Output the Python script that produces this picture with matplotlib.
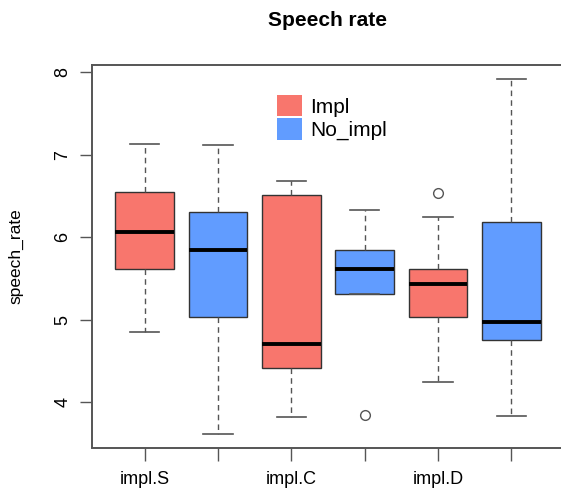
import matplotlib
matplotlib.use("Agg")
import matplotlib.pyplot as plt
from matplotlib.patches import Patch

plt.rcParams['font.family'] = ['Liberation Sans', 'DejaVu Sans']

# Five-number summaries per group (speech rate)
groups = ["impl.S", "impl.S", "impl.C", "impl.C", "impl.D", "impl.D"]
conditions = ["Impl", "No_impl", "Impl", "No_impl", "Impl", "No_impl"]
whisker_low = [4.85, 3.62, 3.83, 5.31, 4.25, 3.84]
q1 = [5.62, 5.04, 4.42, 5.31, 5.04, 4.76]
median = [6.06, 5.85, 4.71, 5.61, 5.44, 4.98]
q3 = [6.55, 6.30, 6.51, 5.84, 5.61, 6.19]
whisker_high = [7.13, 7.12, 6.68, 6.33, 6.24, 7.91]
outliers = [[], [], [], [3.85], [6.54], []]

tick_labels = ["impl.S", "", "impl.C", "", "impl.D", ""]
legend_labels = ["Impl", "No_impl"]
colors = {"Impl": "#F8766D", "No_impl": "#619CFF"}

stats = []
for i in range(len(median)):
    stats.append({
        "whislo": whisker_low[i], "q1": q1[i], "med": median[i],
        "q3": q3[i], "whishi": whisker_high[i], "fliers": outliers[i],
    })

fig = plt.figure(figsize=(5.61, 4.92), dpi=100)
ax = fig.add_axes([92 / 561, 1 - 447.5 / 492, (564 - 92) / 561, (447.5 - 65) / 492])

positions = list(range(1, len(stats) + 1))
edge = "#333333"
bp = ax.bxp(
    stats, positions=positions, widths=0.8, patch_artist=True,
    boxprops=dict(edgecolor=edge, linewidth=1.0),
    medianprops=dict(color="black", linewidth=2.8, solid_capstyle="butt"),
    whiskerprops=dict(color="#555555", linewidth=1.0, linestyle=(0, (4, 3))),
    capprops=dict(color="#555555", linewidth=1.2),
    flierprops=dict(marker="o", markersize=7, markerfacecolor="none",
                    markeredgecolor="#555555", markeredgewidth=1.0),
    capwidths=0.4,
)
for patch, cond in zip(bp["boxes"], conditions):
    patch.set_facecolor(colors[cond])

ax.set_xlim(0.28, 6.72)
ax.set_ylim(3.455, 8.085)
ax.set_xticks(positions)
ax.set_xticklabels(tick_labels, fontsize=13)
ax.set_yticks([4, 5, 6, 7, 8])
ax.set_yticklabels(["4", "5", "6", "7", "8"], rotation=90, va="center", fontsize=13)
ax.tick_params(axis="both", length=9, width=1.0, color="#555555", pad=6)
ax.tick_params(axis="x", pad=8)
for s in ax.spines.values():
    s.set_color("#555555")
    s.set_linewidth(1.4)

ax.set_ylabel("speech_rate", fontsize=12.5, labelpad=22)
fig.text(328 / 561, 1 - 20 / 492, "Speech rate", ha="center", va="center",
         fontsize=15, fontweight="bold")

handles = [Patch(facecolor=colors[c], edgecolor="none") for c in legend_labels]
ax.legend(handles, legend_labels, loc="upper left", frameon=False,
          bbox_to_anchor=((277 - 92) / 472, 1 - (95 - 65) / 382.5),
          fontsize=15, handlelength=1.2, handleheight=1.2,
          handletextpad=0.4, labelspacing=0.08, borderpad=0, borderaxespad=0)

fig.savefig("out.png", dpi=100)
